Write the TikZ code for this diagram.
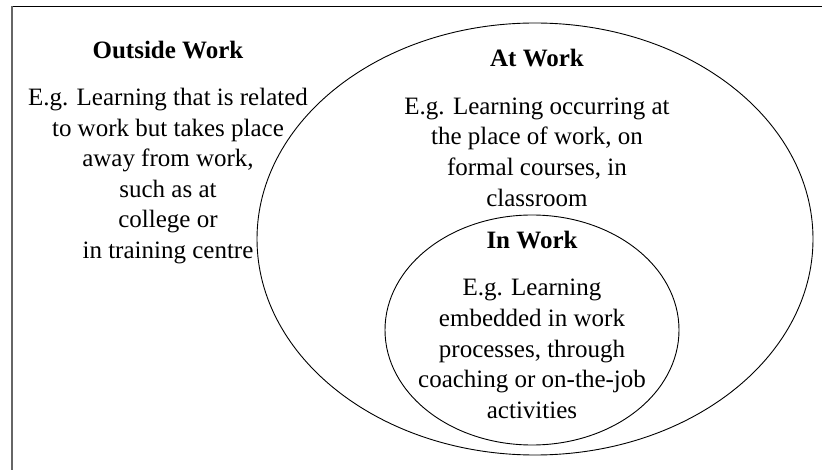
\documentclass[tikz,border=0pt]{standalone}
\usepackage{fontspec}
\usetikzlibrary{shapes.geometric}
\setmainfont{Liberation Serif}
\begin{document}
\begin{tikzpicture}[x=1pt,y=-1pt,
  ring/.style={draw=black,line width=0.9pt,ellipse,inner sep=0pt},
  ttl/.style={font=\fontsize{25}{30.6}\selectfont\bfseries,inner sep=0pt},
  body/.style={font=\fontsize{25}{30.6}\selectfont,align=center,inner sep=0pt}]
\useasboundingbox (0,0) rectangle (822,470);
% frame (top and left edges)
\coordinate (ftl) at (12,6.5);
\coordinate (ftr) at (822,6.5);
\coordinate (fbl) at (12,470);
\draw[black,line width=1.3pt] (ftl) -- (ftr);
\draw[black!60,line width=1.3pt] (ftl) -- (fbl);
% ellipses
\node[ring,minimum width=556pt,minimum height=432pt] (outer) at (535,239) {};
\node[ring,minimum width=294pt,minimum height=230pt] (inner) at (532,330) {};
% texts
\node[ttl] (otitle) at (168,50) {Outside Work};
\node[body] (otext) at (168,176) {E.g. Learning that is related\\to work but takes place\\away from work,\\such as at\\college or\\in training centre};
\node[ttl] (atitle) at (537,58) {At Work};
\node[body] (atext) at (537,152) {E.g. Learning occurring at\\the place of work, on\\formal courses, in\\classroom};
\node[ttl] (ititle) at (532,240) {In Work};
\node[body] (itext) at (532,349) {E.g. Learning\\embedded in work\\processes, through\\coaching or on-the-job\\activities};
\end{tikzpicture}
\end{document}
